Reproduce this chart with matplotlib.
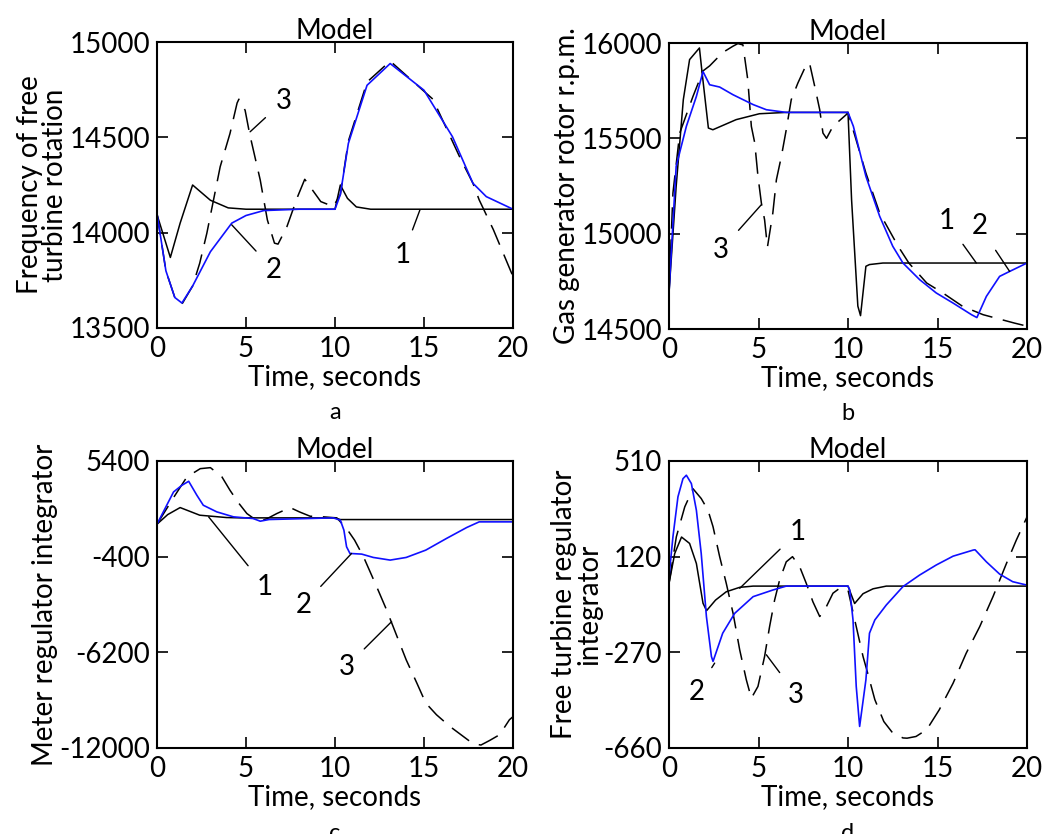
import numpy as np
import matplotlib.pyplot as plt

plt.rcParams['font.family'] = ['Lato', 'DejaVu Sans']
plt.rcParams['font.size'] = 20
plt.rcParams['axes.unicode_minus'] = False

# ---- panel a: free turbine rotation frequency
ta1 = [0, 0.75, 1.3, 2.0, 3.0, 4.0, 5.0, 10.0, 10.3, 10.7, 11.2, 12.0, 20]
va1 = [14095, 13870, 14050, 14250, 14170, 14130, 14123, 14123, 14250, 14180, 14135, 14123, 14123]
ta2 = [0, 0.5, 1.0, 1.4, 2.0, 3.0, 4.2, 5.0, 6.0, 8.0, 10.0, 10.3, 10.75, 11.8, 13.1, 15.0, 16.6, 17.75, 18.5, 20]
va2 = [14100, 13800, 13660, 13631, 13720, 13900, 14050, 14090, 14116, 14123, 14123, 14200, 14468, 14773, 14887, 14747, 14503, 14259, 14189, 14123]
ta3 = [0, 0.5, 1.0, 1.4, 2.0, 2.4, 2.8, 3.55, 4.1, 4.5, 4.6, 4.95, 5.2, 5.8, 6.2, 6.6, 6.8, 7.3, 7.9, 8.3, 9.2, 9.9,
       10.3, 10.75, 11.8, 13.1, 15.5, 17.0, 17.75, 18.1, 18.9, 20]
va3 = [14100, 13800, 13660, 13625, 13720, 13840, 13997, 14346, 14520, 14680, 14700, 14642, 14520, 14276, 14067, 13945, 13940,
       14032, 14189, 14280, 14163, 14137, 14200, 14480, 14790, 14900, 14700, 14398, 14259, 14172, 14015, 13770]

# ---- panel b: gas generator rotor r.p.m.
tb1 = [0, 0.4, 0.8, 1.15, 1.7, 1.85, 2.2, 2.45, 3.75, 5.05, 6.55, 10.0, 10.2, 10.55, 10.7, 11.0, 11.2, 11.95, 20]
vb1 = [14690, 15248, 15703, 15913, 15974, 15843, 15554, 15545, 15598, 15629, 15636, 15636, 15178, 14620, 14570, 14829, 14838, 14846, 14846]
tb2 = [0, 0.4, 0.97, 1.53, 1.9, 2.27, 2.83, 3.57, 4.7, 5.44, 6.55, 10.0, 10.3, 11.0, 11.77, 12.5, 13.07, 14.0, 14.93, 15.87, 16.9, 17.2,
       17.73, 18.47, 19.03, 20]
vb2 = [14690, 15353, 15563, 15720, 15850, 15781, 15769, 15729, 15677, 15650, 15636, 15636, 15563, 15301, 15091, 14934, 14846, 14759,
       14689, 14636, 14575, 14560, 14671, 14776, 14802, 14846]
tb3 = [0, 0.22, 0.6, 1.34, 1.71, 1.85, 2.27, 3.0, 3.57, 3.85, 4.13, 4.4, 4.6, 4.79, 4.97, 5.16, 5.34, 5.5, 5.8, 6.0, 6.28, 6.55, 6.83,
       7.2, 7.67, 7.85, 8.14, 8.42, 8.6, 8.8, 9.16, 9.9, 10.0, 11.0, 11.77, 12.8, 13.4, 14.4, 15.3, 16.4, 17.55, 19.3, 20]
vb3 = [14690, 15213, 15528, 15720, 15808, 15850, 15880, 15950, 15983, 15997, 15990, 15808, 15563, 15476, 15301, 15161, 15073, 14930,
       15108, 15283, 15406, 15545, 15703, 15790, 15886, 15895, 15773, 15650, 15528, 15500, 15563, 15624, 15636, 15318, 15108, 14934,
       14846, 14741, 14689, 14619, 14575, 14531, 14515]

# ---- panel c: meter regulator integrator
tc1 = [0, 0.6, 1.3, 2.4, 3.9, 4.7, 10.0, 10.3, 20]
vc1 = [1569, 2150, 2577, 2114, 1972, 1952, 1952, 1850, 1850]
tc2 = [0, 0.93, 1.4, 1.78, 2.24, 2.6, 3.36, 4.3, 5.4, 5.8, 6.3, 9.9, 10.3, 10.5, 10.65, 10.84, 11.5, 12.15, 13.1, 14.0, 15.1, 16.26,
       17.4, 18.1, 20]
vc2 = [1569, 3525, 3928, 4170, 3323, 2718, 2315, 2013, 1912, 1751, 1852, 1952, 1811, 1206, 198, -205, -245, -447, -608, -447, -3,
       702, 1368, 1710, 1710]
tc3 = [0, 1.0, 1.68, 2.43, 3.0, 3.65, 4.1, 4.58, 5.05, 5.7, 6.2, 6.73, 7.48, 8.0, 8.6, 9.35, 10.1, 10.65, 11.1, 11.6, 12.3, 12.9,
       13.45, 14.0, 14.6, 15.1, 15.7, 16.45, 17.2, 17.75, 18.2, 18.7, 19.25, 19.8, 20]
vc3 = [1569, 3300, 4432, 4936, 4997, 4432, 3626, 2860, 2214, 1710, 1912, 2214, 2577, 2315, 2053, 2013, 1952, 1307, 602, -407, -2120,
       -3632, -5144, -6656, -8068, -9277, -9983, -10689, -11294, -11737, -11820, -11536, -11193, -10286, -10100]

# ---- panel d: free turbine regulator integrator
td1 = [0, 0.32, 0.7, 1.15, 1.53, 1.9, 2.1, 2.6, 3.2, 3.95, 4.7, 10.0, 10.37, 10.84, 11.4, 12.14, 20]
vd1 = [11, 133, 200, 174, 92, -70, -100, -57, -23, -5, 0, 0, -71, -31, -11, 0, 0]
td2 = [0, 0.22, 0.5, 0.78, 0.97, 1.25, 1.53, 1.8, 2.09, 2.37, 2.46, 3.0, 3.67, 4.7, 5.8, 6.55, 10.0, 10.1, 10.28, 10.46, 10.65,
       11.0, 11.2, 11.5, 12.14, 13.07, 14.0, 14.93, 15.87, 17.0, 17.1, 17.73, 18.47, 19.2, 20]
vd2 = [38, 201, 364, 438, 452, 418, 309, 133, -124, -287, -307, -192, -111, -43, -16, 0, 0, -16, -138, -409, -572, -382, -192,
       -138, -77, -2, 45, 86, 122, 147, 148, 99, 49, 18, 4]
td3 = [0, 0.41, 0.88, 1.34, 1.8, 2.18, 2.46, 2.83, 3.2, 3.58, 3.95, 4.32, 4.6, 4.97, 5.34, 5.62, 5.9, 6.18, 6.55, 6.9, 7.3, 7.67,
       8.04, 8.42, 8.79, 9.16, 9.53, 10.0, 10.46, 10.84, 11.1, 11.5, 12.0, 12.5, 13.07, 13.3, 13.8, 14.4, 15.1, 15.87, 16.6, 17.36,
       18.1, 18.85, 19.4, 20]
vd3 = [11, 201, 323, 397, 357, 309, 242, 120, 11, -111, -260, -382, -457, -409, -287, -165, -57, 25, 99, 120, 79, 11, -64, -124,
       -84, -29, -9, -16, -165, -287, -355, -463, -552, -599, -619, -620, -613, -585, -504, -396, -274, -165, -43, 92, 187, 282]

fig = plt.figure(figsize=(10.5, 8.34), dpi=100)

def px(l, t, r, b):
    return [l / 1050, 1 - b / 834, (r - l) / 1050, (b - t) / 834]

panels = [
    (px(157, 42, 513, 328), (13500, 15000), [13500, 14000, 14500, 15000], 'Frequency of free\nturbine rotation',
     (ta1, va1), (ta2, va2), (ta3, va3), 'a',
     [('3', (5.23, 14529), (7.1, 14690)), ('2', (4.2, 14041), (6.54, 13805)), ('1', (14.77, 14119), (13.83, 13884))]),
    (px(669, 43, 1027, 329), (14500, 16000), [14500, 15000, 15500, 16000], 'Gas generator rotor r.p.m.',
     (tb1, vb1), (tb2, vb2), (tb3, vb3), 'b',
     [('3', (5.16, 15152), (2.92, 14916)), ('1', (17.17, 14846), (15.5, 15065)), ('2', (19.03, 14802), (17.36, 15038))]),
    (px(157, 461, 513, 748), (-12000, 5400), [-12000, -6200, -400, 5400], 'Meter regulator integrator',
     (tc1, vc1), (tc2, vc2), (tc3, vc3), 'c',
     [('1', (2.9, 2013), (6.07, -2221)), ('2', (10.93, -205), (8.22, -3330)), ('3', (13.18, -4338), (10.65, -7060))]),
    (px(669, 461, 1027, 748), (-660, 510), [-660, -270, 120, 510], 'Free turbine regulator\nintegrator',
     (td1, vd1), (td2, vd2), (td3, vd3), 'd',
     [('1', (3.95, -9), (7.2, 221)), ('2', (2.55, -314), (1.53, -430)), ('3', (5.44, -280), (7.11, -443))]),
]

for rect, ylim, yt, ylab, c1, c2, c3, letter, labels in panels:
    ax = fig.add_axes(rect)
    ax.plot(c3[0], c3[1], color='black', lw=1.1, linestyle=(0, (14, 7)))
    ax.plot(c1[0], c1[1], color='black', lw=1.1)
    ax.plot(c2[0], c2[1], color='#1010ff', lw=1.2)
    ax.set_xlim(0, 20)
    ax.set_ylim(*ylim)
    ax.set_xticks([0, 5, 10, 15, 20])
    ax.set_yticks(yt)
    ax.tick_params(direction='in', top=True, right=True, length=8, width=1.2)
    ax.tick_params(axis='x', pad=6)
    ax.tick_params(axis='y', pad=5)
    for s in ax.spines.values():
        s.set_linewidth(1.5)
    ax.set_title('Model', fontsize=20, pad=2)
    ax.set_xlabel('Time, seconds', labelpad=1)
    ax.set_ylabel(ylab, labelpad=1, linespacing=0.95)
    ax.text(0.5, -0.26, letter, transform=ax.transAxes, ha='center', va='top', fontsize=17)
    for txt, tip, pos in labels:
        ax.annotate(txt, xy=tip, xytext=pos, ha='center', va='center',
                    arrowprops=dict(arrowstyle='-', lw=1.0, color='black', shrinkA=7, shrinkB=0))

plt.savefig('out.png', dpi=100)
